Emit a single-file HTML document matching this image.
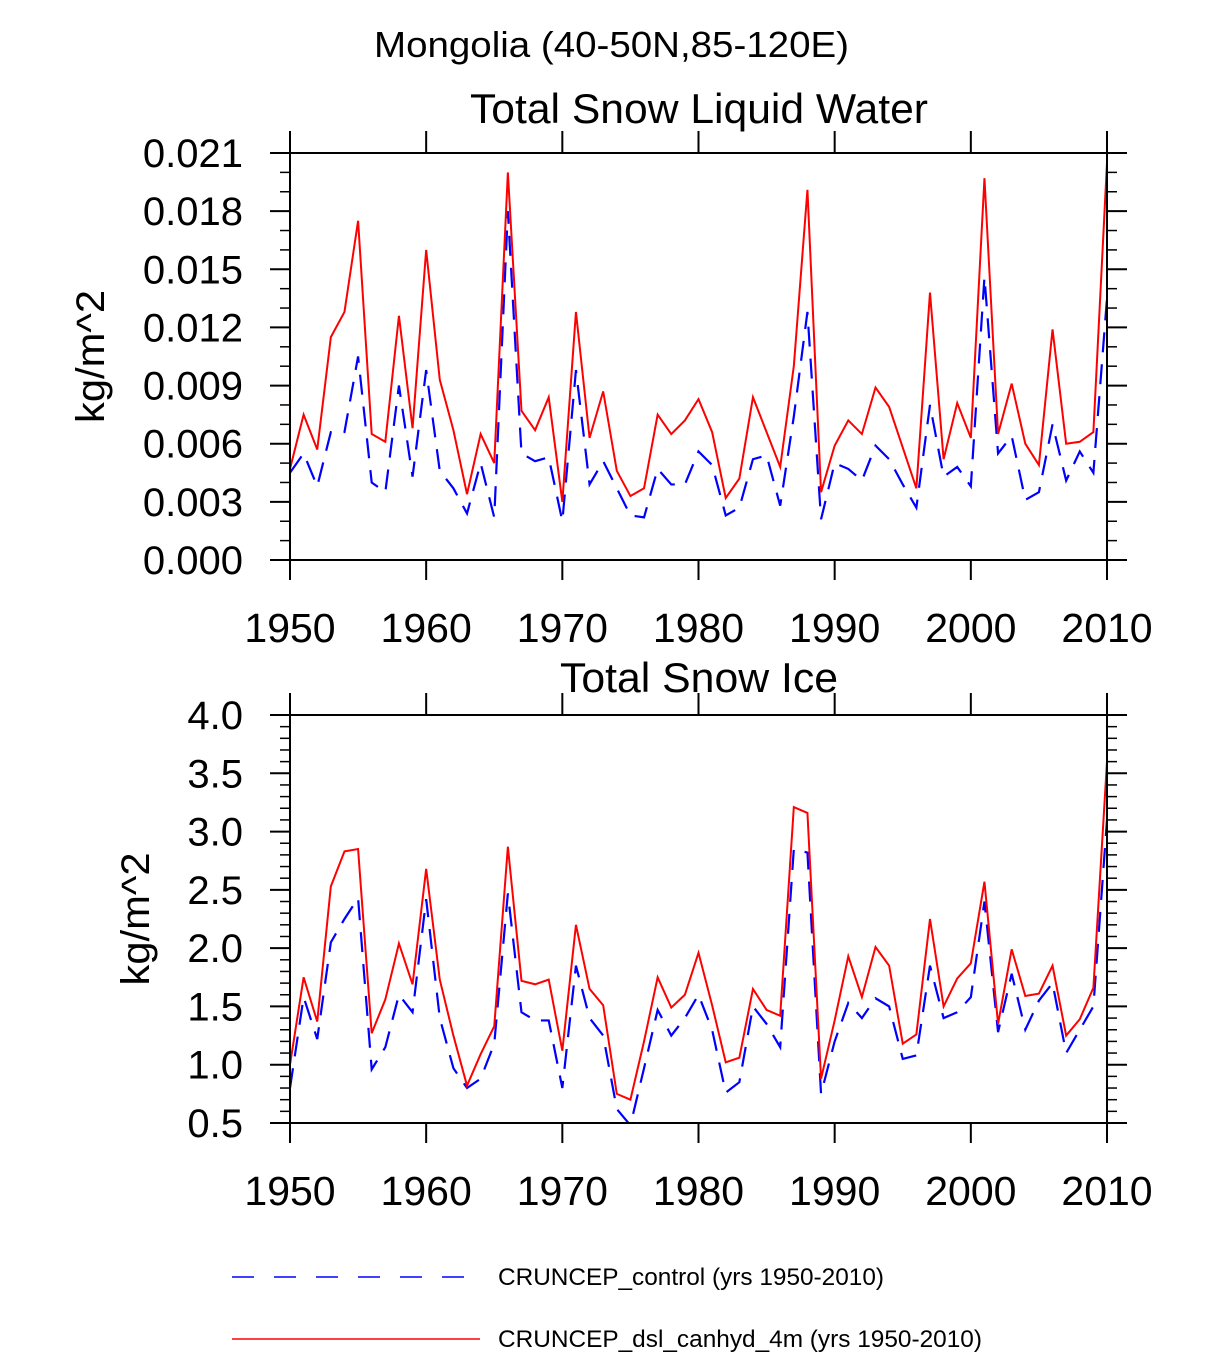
<!DOCTYPE html>
<html><head><meta charset="utf-8"><style>
body{margin:0;background:#fff;}
svg text{font-family:"Liberation Sans",Arial,sans-serif;fill:#000;}
</style></head><body>
<svg id="chart" width="1224" height="1353" xmlns="http://www.w3.org/2000/svg">
<text x="374" y="57" font-size="36" textLength="475" lengthAdjust="spacingAndGlyphs">Mongolia (40-50N,85-120E)</text>
<g id="p1"></g>
<g id="p2"></g>
<g>
<line x1="232" y1="1277" x2="464" y2="1277" stroke="#0000ff" stroke-width="1.5" stroke-dasharray="22,20"/>
<text x="498" y="1285" font-size="24" textLength="386" lengthAdjust="spacingAndGlyphs">CRUNCEP_control (yrs 1950-2010)</text>
<line x1="232" y1="1339" x2="480" y2="1339" stroke="#ff0000" stroke-width="1.5"/>
<text x="498" y="1347" font-size="24" textLength="484" lengthAdjust="spacingAndGlyphs">CRUNCEP_dsl_canhyd_4m (yrs 1950-2010)</text>
</g>
</svg>
<script>
const years=[];for(let y=1950;y<=2010;y++)years.push(y);
const xTicks=[1950,1960,1970,1980,1990,2000,2010];
const liqRed=[.0047,.0075,.0057,.0115,.0128,.0175,.0065,.0061,.0126,.0068,.0160,.0093,.0067,.0034,.0065,.0050,.0200,.0077,.0067,.0084,.0030,.0128,.0063,.0087,.0046,.0033,.0037,.0075,.0065,.0072,.0083,.0066,.0032,.0042,.0084,.0066,.0048,.0100,.0191,.0035,.0059,.0072,.0065,.0089,.0079,.0058,.0037,.0138,.0052,.0081,.0063,.0197,.0065,.0091,.0060,.0049,.0119,.0060,.0061,.0066,.0205];
const liqBlue=[.0045,.0055,.0038,.0066,.0066,.0105,.0040,.0035,.0090,.0043,.0098,.0046,.0037,.0024,.0050,.0022,.0180,.0055,.0051,.0053,.0020,.0098,.0039,.0051,.0037,.0023,.0022,.0047,.0039,.0039,.0056,.0049,.0023,.0027,.0052,.0054,.0028,.0074,.0128,.0021,.0050,.0047,.0041,.0059,.0052,.0039,.0027,.0080,.0043,.0048,.0038,.0146,.0055,.0064,.0031,.0035,.0070,.0041,.0056,.0045,.0135];
const liqTicks=["0.000","0.003","0.006","0.009","0.012","0.015","0.018","0.021"];
const iceRed=[1.00,1.75,1.37,2.53,2.83,2.85,1.27,1.56,2.04,1.69,2.68,1.73,1.25,0.82,1.09,1.33,2.87,1.72,1.69,1.73,1.12,2.20,1.65,1.51,0.75,0.70,1.20,1.75,1.49,1.60,1.96,1.51,1.02,1.06,1.65,1.47,1.42,3.21,3.16,0.88,1.38,1.93,1.58,2.01,1.85,1.18,1.26,2.25,1.50,1.74,1.87,2.57,1.35,1.99,1.59,1.61,1.85,1.25,1.39,1.66,3.60];
const iceBlue=[0.80,1.58,1.22,2.05,2.25,2.43,0.96,1.15,1.60,1.45,2.42,1.40,0.97,0.80,0.88,1.18,2.47,1.45,1.38,1.38,0.80,1.85,1.40,1.25,0.62,0.48,0.97,1.47,1.25,1.40,1.60,1.30,0.76,0.85,1.50,1.35,1.15,2.85,2.82,0.75,1.20,1.53,1.40,1.57,1.50,1.05,1.08,1.85,1.40,1.45,1.58,2.40,1.28,1.78,1.30,1.55,1.70,1.10,1.30,1.50,3.10];
const iceTicks=["0.5","1.0","1.5","2.0","2.5","3.0","3.5","4.0"];
const NS="http://www.w3.org/2000/svg";
function mk(p,t,a){const e=document.createElementNS(NS,t);for(const k in a)e.setAttribute(k,a[k]);p.appendChild(e);return e;}
function panel(g,top,bot,ymin,ymax,minorStep,yt,red,blue,title,titleLen,titleOff,ytitleX){
 const L=290,R=1107;
 const xs=y=>L+(y-1950)/60*(R-L);
 const ys=v=>bot-(v-ymin)/(ymax-ymin)*(bot-top);
 const clip='c'+top;
 const cp=mk(mk(g,'defs',{}),'clipPath',{id:clip});mk(cp,'rect',{x:L,y:top,width:R-L,height:bot-top});
 const t=mk(g,'text',{x:699,y:top-titleOff,'font-size':42,'text-anchor':'middle',textLength:titleLen,lengthAdjust:'spacingAndGlyphs'});t.textContent=title;
 
 
 const cy=(top+bot)/2;
 const at=mk(g,'text',{x:ytitleX,y:cy,'font-size':40,'text-anchor':'middle',textLength:133,lengthAdjust:'spacingAndGlyphs',transform:`rotate(-90 ${ytitleX} ${cy})`});at.textContent='kg/m^2';
 
 
 const n=Math.round((ymax-ymin)/minorStep);
 const per=Math.round(n/(yt.length-1));
 for(let i=0;i<=n;i++){const v=ymin+i*minorStep,y=ys(v),maj=(i%per===0);const len=maj?20:10;
  const tk=mk(g,'line',{x1:L-len,x2:L,y1:y,y2:y,stroke:'#000','stroke-width':maj?2:1.5});
  
  
  mk(g,'line',{x1:R,x2:R+len,y1:y,y2:y,stroke:'#000','stroke-width':maj?2:1.5});}
 yt.forEach((s,i)=>{const v=ymin+i*(ymax-ymin)/(yt.length-1);const tl=mk(g,'text',{x:243,y:ys(v)+14,'font-size':40,'text-anchor':'end'});tl.textContent=s;
  
  });
 xTicks.forEach(yr=>{const x=xs(yr);mk(g,'line',{x1:x,x2:x,y1:bot,y2:bot+20,stroke:'#000','stroke-width':2});mk(g,'line',{x1:x,x2:x,y1:top-22,y2:top,stroke:'#000','stroke-width':2});
  const xl=mk(g,'text',{x:x,y:bot+82,'font-size':41,'text-anchor':'middle'});xl.textContent=yr;
  
  });
 const pb=mk(g,'polyline',{points:blue.map((v,i)=>xs(years[i])+','+ys(v)).join(' '),fill:'none',stroke:'#0000ff','stroke-width':2.2,'stroke-dasharray':'20,12','clip-path':`url(#${clip})`});
 
 
 const pr=mk(g,'polyline',{points:red.map((v,i)=>xs(years[i])+','+ys(v)).join(' '),fill:'none',stroke:'#ff0000','stroke-width':2,'clip-path':`url(#${clip})`});
 
 
 const fr=mk(g,'rect',{x:L,y:top,width:R-L,height:bot-top,fill:'none',stroke:'#000','stroke-width':2});
 
 
}
panel(document.getElementById('p1'),153,560,0,0.021,0.001,liqTicks,liqRed,liqBlue,'Total Snow Liquid Water',458,30,104);
panel(document.getElementById('p2'),715,1123,0.5,4.0,0.1,iceTicks,iceRed,iceBlue,'Total Snow Ice',278,23,149);
</script>
</body></html>
